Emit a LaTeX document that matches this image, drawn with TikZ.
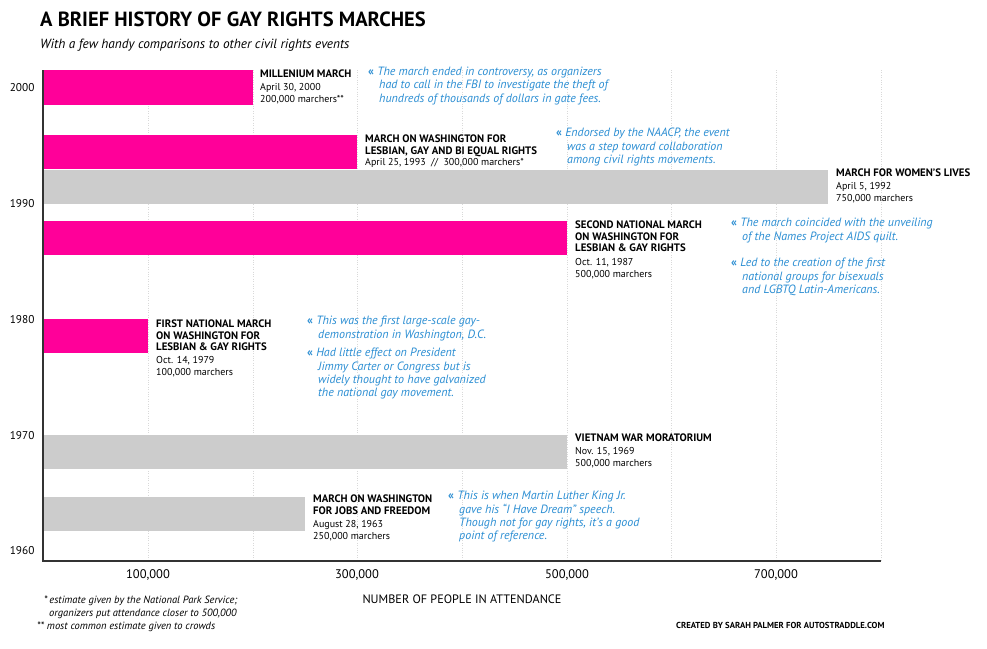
\documentclass[tikz,border=0pt]{standalone}
\usepackage{fontspec}
\setmainfont{PT Sans}
\definecolor{pinkc}{HTML}{FF0099}
\definecolor{grayc}{HTML}{CCCCCC}
\definecolor{bluec}{HTML}{2B8ED3}
\begin{document}
\begin{tikzpicture}[x=1pt,y=-1pt,
 head/.style={anchor=north west,align=left,inner sep=0,font=\fontsize{10.8}{11.5}\selectfont\bfseries},
 info/.style={anchor=north west,align=left,inner sep=0,font=\fontsize{10}{12}\selectfont},
 note/.style={anchor=north west,align=left,inner sep=0,text=bluec,font=\fontsize{12}{13.3}\selectfont\itshape},
 yl/.style={anchor=east,font=\fontsize{11.3}{12}\selectfont},
 xl/.style={anchor=north,font=\fontsize{12.5}{13}\selectfont},
 grid/.style={gray!30,dotted,line width=0.4pt}]
\useasboundingbox (0,0) rectangle (987,648);
\fill[white] (0,0) rectangle (987,648);
\node[anchor=north west,inner sep=0,font=\fontsize{20.5}{24}\selectfont\bfseries] (title) at (40,12) {A BRIEF HISTORY OF GAY RIGHTS MARCHES};
\node[anchor=north west,inner sep=0,font=\fontsize{13.3}{14}\selectfont\itshape] (sub) at (40,39) {With a few handy comparisons to other civil rights events};
% grid
\foreach \x in {148,253,357,462,567,671,776,881} \draw[grid] (\x,70) -- (\x,561);
% bars
\fill[pinkc] (43,70) rectangle (253,105);
\fill[pinkc] (43,135) rectangle (357,169);
\fill[grayc] (43,170) rectangle (828,204);
\fill[pinkc] (43,221) rectangle (567,255);
\fill[pinkc] (43,319) rectangle (148,353);
\fill[grayc] (43,435) rectangle (567,469);
\fill[grayc] (43,497) rectangle (305,531);
% axes
\draw[line width=1.3pt,black!80] (43,70) -- (43,561) -- (881,561);
\node[yl] (y2000) at (38,88) {2000};
\node[yl] (y1990) at (38,204) {1990};
\node[yl] (y1980) at (38,320) {1980};
\node[yl] (y1970) at (38,436) {1970};
\node[yl] (y1960) at (38,551) {1960};
\node[xl] (x1) at (148,566) {100,000};
\node[xl] (x3) at (357,566) {300,000};
\node[xl] (x5) at (567,566) {500,000};
\node[xl] (x7) at (776,566) {700,000};
\node[anchor=north,inner sep=0,font=\fontsize{12.2}{13}\selectfont] (xt) at (462,595) {NUMBER OF PEOPLE IN ATTENDANCE};
% labels
\node[head] (m1h) at (260,70) {MILLENIUM MARCH};
\node[info] (m1i) at (260,83) {April 30, 2000\\200,000 marchers**};
\node[head] (m2h) at (365,135) {MARCH ON WASHINGTON FOR\\LESBIAN, GAY AND BI EQUAL RIGHTS};
\node[info] (m2i) at (365,158) {April 25, 1993 \ // \ 300,000 marchers*};
\node[head] (m3h) at (836,169) {MARCH FOR WOMEN'S LIVES};
\node[info] (m3i) at (836,182) {April 5, 1992\\750,000 marchers};
\node[head] (m4h) at (575,221) {SECOND NATIONAL MARCH\\ON WASHINGTON FOR\\LESBIAN \& GAY RIGHTS};
\node[info] (m4i) at (575,258) {Oct. 11, 1987\\500,000 marchers};
\node[head] (m5h) at (156,320) {FIRST NATIONAL MARCH\\ON WASHINGTON FOR\\LESBIAN \& GAY RIGHTS};
\node[info] (m5i) at (156,356) {Oct. 14, 1979\\100,000 marchers};
\node[head] (m6h) at (575,434) {VIETNAM WAR MORATORIUM};
\node[info] (m6i) at (575,447) {Nov. 15, 1969\\500,000 marchers};
\node[head] (m7h) at (313,495) {MARCH ON WASHINGTON\\FOR JOBS AND FREEDOM};
\node[info] (m7i) at (313,520) {August 28, 1963\\250,000 marchers};
% notes
\node[note] (n1) at (368,67) {{\upshape\bfseries«} The march ended in controversy, as organizers\\\hspace*{11pt}had to call in the FBI to investigate the theft of\\\hspace*{11pt}hundreds of thousands of dollars in gate fees.};
\node[note] (n2) at (556,128) {{\upshape\bfseries«} Endorsed by the NAACP, the event\\\hspace*{11pt}was a step toward collaboration\\\hspace*{11pt}among civil rights movements.};
\node[note] (n3) at (731,218) {{\upshape\bfseries«} The march coincided with the unveiling\\\hspace*{11pt}of the Names Project AIDS quilt.};
\node[note] (n4) at (731,258) {{\upshape\bfseries«} Led to the creation of the first\\\hspace*{11pt}national groups for bisexuals\\\hspace*{11pt}and LGBTQ Latin-Americans.};
\node[note] (n5) at (307,316) {{\upshape\bfseries«} This was the first large-scale gay-\\\hspace*{11pt}demonstration in Washington, D.C.};
\node[note] (n6) at (307,348) {{\upshape\bfseries«} Had little effect on President\\\hspace*{11pt}Jimmy Carter or Congress but is\\\hspace*{11pt}widely thought to have galvanized\\\hspace*{11pt}the national gay movement.};
\node[note] (n7) at (448,491) {{\upshape\bfseries«} This is when Martin Luther King Jr.\\\hspace*{11pt}gave his ``I Have Dream'' speech.\\\hspace*{11pt}Though not for gay rights, it's a good\\\hspace*{11pt}point of reference.};
% footnotes
\node[anchor=north west,inner sep=0,align=left,font=\fontsize{10.5}{12.5}\selectfont\itshape] (f1) at (44,596) {*\,estimate given by the National Park Service;\\\hspace*{5pt}organizers put attendance closer to 500,000};
\node[anchor=north west,inner sep=0,font=\fontsize{10.5}{12}\selectfont\itshape] (f2) at (37,622) {** most common estimate given to crowds};
\node[anchor=north west,inner sep=0,font=\fontsize{8.7}{9}\selectfont\bfseries] (cr) at (676,622) {CREATED BY SARAH PALMER FOR AUTOSTRADDLE.COM};
\end{tikzpicture}
\end{document}
